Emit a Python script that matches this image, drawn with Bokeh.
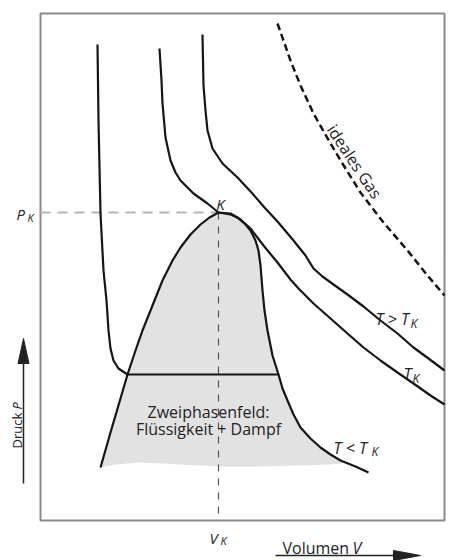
import math
from bokeh.plotting import figure
from bokeh.models import Range1d, Label
from bokeh.embed import file_html
from bokeh.resources import INLINE

# ---- data (arbitrary units: V to the right, P upward; diagram box spans V 0..404, P 0..507) ----
# isotherm T < T_K (liquid branch, plateau, vapour branch)
iso_low_v = [57, 58, 60, 63, 66, 68, 70, 73, 78, 84, 87, 238, 242, 247, 253, 260, 270, 280, 290, 300, 315, 328]
iso_low_p = [476, 400, 307, 250, 220, 190, 172, 160, 152, 148, 146, 146, 132, 120, 106, 93, 82, 73, 66, 60, 54, 48]

# critical isotherm T_K
iso_crit_v = [119, 121, 122, 125, 130, 135, 140, 153, 167, 178, 190, 200, 210, 223, 237, 250, 258, 273, 290, 307, 323, 340, 357, 373, 390, 404]
iso_crit_p = [472, 440, 417, 383, 360, 348, 340, 327, 317, 308, 307, 301, 292, 275, 258, 241, 232, 217, 202, 187, 173, 160, 148, 137, 125, 116]

# isotherm T > T_K
iso_high_v = [162, 163, 165, 167, 172, 182, 197, 211, 224, 237, 253, 265, 273, 282, 293, 307, 323, 340, 357, 373, 388, 404]
iso_high_p = [486, 435, 410, 390, 372, 357, 343, 328, 313, 299, 280, 265, 252, 244, 236, 226, 214, 200, 187, 173, 162, 150]

# ideal gas
ideal_v = [237, 250, 260, 273, 290, 305, 320, 343, 367, 387, 404]
ideal_p = [497, 460, 435, 407, 377, 352, 328, 298, 270, 245, 225]

# coexistence curve (dome)
dome_v = [60, 70, 80, 87, 95, 102, 112, 122, 132, 140, 150, 160, 169, 178, 190, 197, 205, 210, 215, 218, 220, 222, 224, 227, 232, 238]
dome_p = [53, 88, 122, 146, 170, 190, 215, 240, 260, 273, 286, 296, 303, 308, 306, 303, 296, 290, 280, 270, 255, 230, 210, 190, 165, 146]

# lower edge of the two-phase field shading (vapour branch, then wavy bottom)
shade_tail_v = [242, 247, 253, 260, 270, 280, 290, 300, 303, 290, 260, 220, 180, 140, 100, 75]
shade_tail_p = [132, 120, 106, 93, 82, 73, 66, 60, 57, 56, 55, 54, 54, 56, 58, 56]

# critical point and diagram box
v_k = 178
p_k = 308
v_max = 404
p_max = 507

FONT = "Open Sans"
INK = "#151515"
ARROW = "#222222"

p = figure(width=455, height=560, output_backend="svg", toolbar_location=None,
           x_range=Range1d(-40, 415), y_range=Range1d(-40, 520),
           min_border=0)
p.xaxis.visible = False
p.yaxis.visible = False
p.grid.visible = False
p.outline_line_color = None
p.background_fill_color = "white"
p.border_fill_color = "white"

# two-phase field shading
p.patch(dome_v + shade_tail_v, dome_p + shade_tail_p, fill_color="#e2e2e2", line_color=None)

# diagram box
p.quad(left=[0], right=[v_max], bottom=[0], top=[p_max], fill_color=None,
       line_color="#8a8a8a", line_width=2)

# reference dashes
p.line([0, v_k], [p_k, p_k], line_color="#b4b4b4", line_width=2, line_dash="10 7")
p.line([v_k, v_k], [p_k, 0], line_color="#555555", line_width=1.2, line_dash="7 7")

# ideal gas
p.line(ideal_v, ideal_p, line_color=INK, line_width=2.5, line_dash="7 4")

# curves
p.line(dome_v, dome_p, line_color=INK, line_width=2.2)
p.line(iso_low_v, iso_low_p, line_color=INK, line_width=2.2)
p.line(iso_crit_v, iso_crit_p, line_color=INK, line_width=2.2)
p.line(iso_high_v, iso_high_p, line_color=INK, line_width=2.2)

# axis arrows (shaft + narrow filled head)
p.line([235, 355], [-35, -35], line_color=ARROW, line_width=1.5)
p.patch([353, 380, 353], [-30, -35, -40], fill_color=ARROW, line_color=ARROW)
p.line([-17, -17], [37, 160], line_color=ARROW, line_width=1.5)
p.patch([-22.5, -17, -11.5], [157, 182, 157], fill_color=ARROW, line_color=ARROW)


def lab(x, y, text, size="16px", style="normal", align="left", angle=0.0, baseline="alphabetic", color="#222222"):
    p.add_layout(Label(x=x, y=y, text=text, text_font=FONT, text_font_size=size,
                       text_font_style=style, text_align=align, text_baseline=baseline,
                       angle=angle, text_color=color))


# axis markers
lab(-24, 307, "P", "15px", "italic")
lab(-13, 303, "K", "11px", "italic")
lab(169, -17, "V", "15px", "italic")
lab(180, -20, "K", "11px", "italic")
lab(v_k + 2, 317, "K", "15px", "italic", align="center")

# axis titles
lab(242, -27, "Volumen", "16px")
lab(312, -27, "V", "16px", "italic")
lab(-24, 72, "Druck", "13px", angle=math.pi / 2)
lab(-24, 111, "P", "13px", "italic", angle=math.pi / 2)

# field label
lab(168, 109, "Zweiphasenfeld:", "16px", align="center")
lab(168, 92, "Flüssigkeit + Dampf", "16px", align="center")

# isotherm labels
lab(335, 202, "T > T", "16px", "italic")
lab(370, 197, "K", "12px", "italic")
lab(363, 147, "T", "16px", "italic")
lab(372, 142, "K", "12px", "italic")
lab(293, 73, "T < T", "16px", "italic")
lab(331, 69, "K", "12px", "italic")

# ideal gas label
lab(314, 359, "ideales Gas", "16px", align="center", baseline="middle", angle=-0.986)

open("out.html", "w").write(file_html(p, INLINE))
